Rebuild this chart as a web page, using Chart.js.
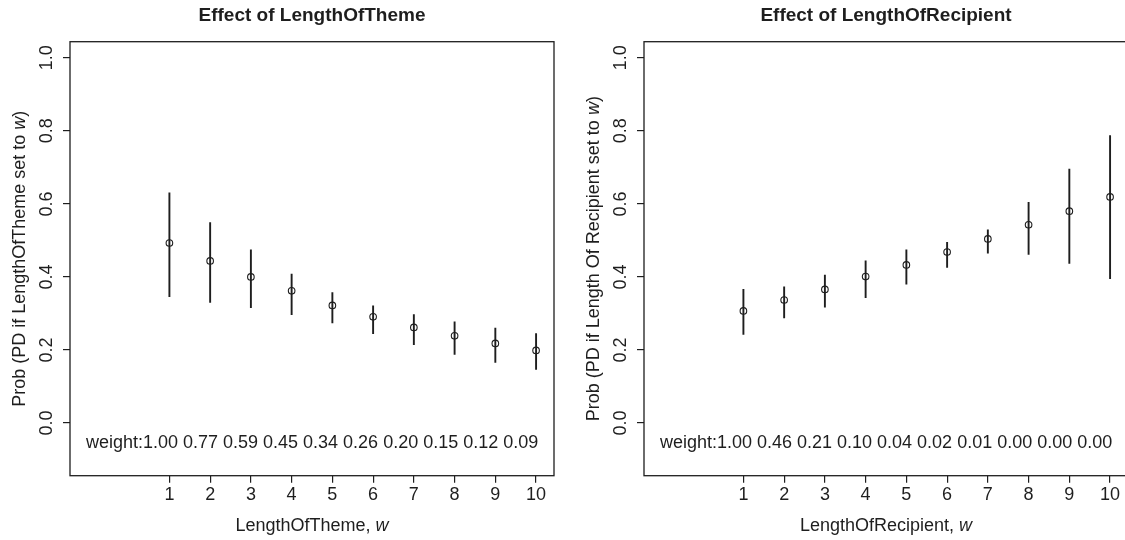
<!DOCTYPE html>
<html>
<head>
<meta charset="utf-8">
<script src="https://cdn.jsdelivr.net/npm/chart.js@4.4.1/dist/chart.umd.min.js"></script>
<style>
  html, body { margin: 0; padding: 0; background: #fff; overflow: hidden; }
  #wrap { position: relative; width: 1125px; height: 540px; overflow: hidden; }
  canvas { position: absolute; top: 0; }
</style>
</head>
<body>
<div id="wrap">
  <canvas id="themeChart" width="574" height="540" style="left:0"></canvas>
  <canvas id="recipChart" width="574" height="540" style="left:574px"></canvas>
</div>
<script>
// ==================== DATA ====================
const levels = [1, 2, 3, 4, 5, 6, 7, 8, 9, 10];
const yTicks = [0, 0.2, 0.4, 0.6, 0.8, 1.0];

// LengthOfTheme panel
const themeProb  = [0.493, 0.444, 0.400, 0.362, 0.322, 0.291, 0.262, 0.239, 0.218, 0.199];
const themeLower = [0.346, 0.330, 0.316, 0.297, 0.274, 0.245, 0.215, 0.188, 0.166, 0.147];
const themeUpper = [0.630, 0.549, 0.474, 0.408, 0.357, 0.321, 0.297, 0.277, 0.260, 0.245];
const themeWeight = [1.00, 0.77, 0.59, 0.45, 0.34, 0.26, 0.20, 0.15, 0.12, 0.09];

// LengthOfRecipient panel
const recipProb  = [0.307, 0.337, 0.366, 0.401, 0.433, 0.468, 0.504, 0.543, 0.580, 0.619];
const recipLower = [0.243, 0.288, 0.317, 0.343, 0.380, 0.426, 0.465, 0.462, 0.437, 0.395];
const recipUpper = [0.366, 0.373, 0.405, 0.444, 0.474, 0.495, 0.529, 0.604, 0.695, 0.787];
const recipWeight = [1.00, 0.46, 0.21, 0.10, 0.04, 0.02, 0.01, 0.00, 0.00, 0.00];

// ==================== STYLE ====================
const FONT = '"Liberation Sans", Arial, Helvetica, sans-serif';
const INK = '#1e1e1e';

// draws text made of plain / italic pieces, centred on (x, y)
function drawRich(ctx, parts, x, y, size, rotate) {
    ctx.save();
    ctx.translate(x, y);
    if (rotate) ctx.rotate(-Math.PI / 2);
    let total = 0;
    parts.forEach(p => {
        ctx.font = (p.italic ? 'italic ' : '') + size + 'px ' + FONT;
        p.w = ctx.measureText(p.text).width;
        total += p.w;
    });
    let cx = -total / 2;
    ctx.fillStyle = INK;
    ctx.textBaseline = 'middle';
    ctx.textAlign = 'left';
    parts.forEach(p => {
        ctx.font = (p.italic ? 'italic ' : '') + size + 'px ' + FONT;
        ctx.fillText(p.text, cx, 0);
        cx += p.w;
    });
    ctx.restore();
}

const panelDecor = {
    id: 'panelDecor',
    afterDraw(chart, args, opts) {
        const ctx = chart.ctx;
        const a = chart.chartArea;
        const xs = chart.scales.x, ys = chart.scales.y;
        // box
        ctx.save();
        ctx.strokeStyle = INK;
        ctx.lineWidth = 1.3;
        ctx.strokeRect(a.left, a.top, a.right - a.left, a.bottom - a.top);
        ctx.restore();
        // weight line
        ctx.save();
        ctx.font = '18px ' + FONT;
        ctx.fillStyle = INK;
        ctx.textAlign = 'left';
        ctx.textBaseline = 'middle';
        const label = 'weight:' + opts.weights.map(w => w.toFixed(2)).join(' ');
        ctx.fillText(label, xs.getPixelForValue(-1.05), ys.getPixelForValue(-0.055));
        ctx.restore();
        // axis titles
        drawRich(ctx, opts.xTitle, (a.left + a.right) / 2, a.bottom + 50.5, 18, false);
        drawRich(ctx, opts.yTitle, a.left - 50, (a.top + a.bottom) / 2, 18, true);
    }
};

function makePanel(id, title, prob, lower, upper, weights, xTitle, yTitle) {
    const ctx = document.getElementById(id).getContext('2d');
    return new Chart(ctx, {
        type: 'scatter',
        data: {
            datasets: [{
                type: 'bar',
                data: levels.map((x, i) => ({ x: x, y: [lower[i], upper[i]] })),
                backgroundColor: INK,
                borderWidth: 0,
                barThickness: 1.25,
                order: 2
            }, {
                type: 'scatter',
                data: levels.map((x, i) => ({ x: x, y: prob[i] })),
                pointStyle: 'circle',
                pointRadius: 3.3,
                pointBorderWidth: 1.1,
                pointBorderColor: INK,
                pointBackgroundColor: 'rgba(0,0,0,0)',
                order: 1
            }]
        },
        options: {
            responsive: false,
            animation: false,
            layout: { padding: { left: 0, right: 20, top: 0, bottom: 0 } },
            plugins: {
                legend: { display: false },
                tooltip: { enabled: false },
                title: {
                    display: true,
                    text: title,
                    fullSize: false,
                    color: INK,
                    font: { family: FONT, size: 19, weight: 'bold', lineHeight: 1.2 },
                    padding: { top: 4.6, bottom: 14.3 }
                },
                panelDecor: { weights: weights, xTitle: xTitle, yTitle: yTitle }
            },
            scales: {
                x: {
                    type: 'linear',
                    min: -1.44,
                    max: 10.44,
                    offset: false,
                    afterBuildTicks: s => { s.ticks = levels.map(v => ({ value: v })); },
                    afterFit: s => { s.height = 64.3; },
                    border: { display: false },
                    grid: { drawOnChartArea: false, drawTicks: true, tickLength: 7, color: INK, lineWidth: 1.2, offset: false },
                    ticks: { color: INK, padding: 2, maxRotation: 0, autoSkip: false, font: { family: FONT, size: 18 } }
                },
                y: {
                    type: 'linear',
                    min: -0.144,
                    max: 1.044,
                    afterBuildTicks: s => { s.ticks = yTicks.map(v => ({ value: v })); },
                    afterFit: s => { s.width = 70; },
                    border: { display: false },
                    grid: { drawOnChartArea: false, drawTicks: true, tickLength: 7, color: INK, lineWidth: 1.2 },
                    ticks: {
                        color: INK,
                        padding: 3.5,
                        minRotation: 90,
                        maxRotation: 90,
                        crossAlign: 'center',
                        autoSkip: false,
                        font: { family: FONT, size: 18 },
                        callback: v => v.toFixed(1)
                    }
                }
            }
        },
        plugins: [panelDecor]
    });
}

document.addEventListener('DOMContentLoaded', () => {
    makePanel('themeChart', 'Effect of LengthOfTheme',
        themeProb, themeLower, themeUpper, themeWeight,
        [{ text: 'LengthOfTheme, ' }, { text: 'w', italic: true }],
        [{ text: 'Prob (PD if LengthOfTheme set to ' }, { text: 'w', italic: true }, { text: ')' }]);

    makePanel('recipChart', 'Effect of LengthOfRecipient',
        recipProb, recipLower, recipUpper, recipWeight,
        [{ text: 'LengthOfRecipient, ' }, { text: 'w', italic: true }],
        [{ text: 'Prob (PD if Length Of Recipient set to ' }, { text: 'w', italic: true }, { text: ')' }]);
});
</script>
</body>
</html>
